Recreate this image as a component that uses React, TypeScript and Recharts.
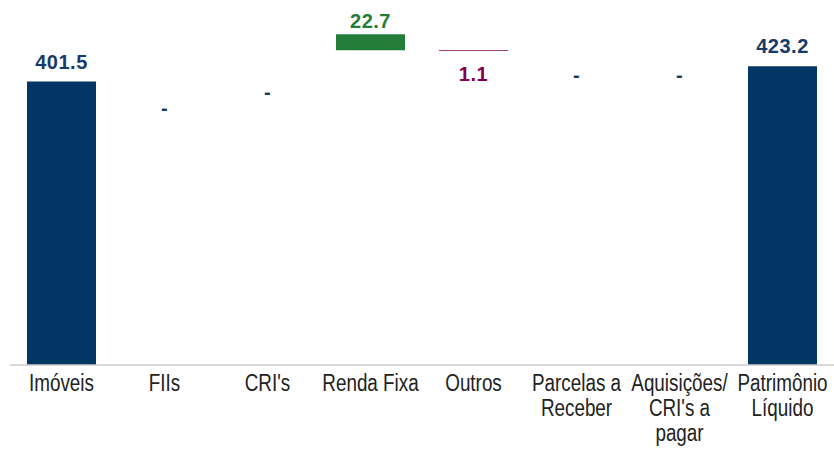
import React from 'react';
import { ComposedChart, Bar, Line, XAxis, YAxis, Cell, LabelList } from 'recharts';

// Waterfall: invisible base + visible delta
const categories = [
  'Imóveis',
  'FIIs',
  "CRI's",
  'Renda Fixa',
  'Outros',
  'Parcelas a\nReceber',
  "Aquisições/\nCRI's a\npagar",
  'Patrimônio\nLíquido',
];
const baseValues = [0, 336, 359, 445.7, 444.6, 382, 382, 0];
const deltaValues = [401.5, 0, 0, 22.7, 1.1, 0, 0, 423.2];
const valueLabels = ['401.5', '-', '-', '22.7', '1.1', '-', '-', '423.2'];
const kinds = ['total', 'zero', 'zero', 'up', 'down', 'zero', 'zero', 'total'];

const NAVY = '#023765';
const GREEN = '#237D38';
const PURPLE = '#80004F';

const barColor = (kind: string) => {
  if (kind === 'up') return GREEN;
  if (kind === 'down') return PURPLE;
  return NAVY;
};

const labelColor = (kind: string) => {
  if (kind === 'up') return GREEN;
  if (kind === 'down') return PURPLE;
  return '#173B69';
};

const data = categories.map((name, i) => ({
  name,
  base: baseValues[i],
  delta: deltaValues[i],
  // where the value label hangs: top of the bar, or bottom for a decrease
  anchor: kinds[i] === 'down' ? baseValues[i] : baseValues[i] + deltaValues[i],
}));

const CategoryTick = (props: any) => {
  const { x, y, payload } = props;
  const lines = String(payload.value).split('\n');
  return (
    <text
      transform={`translate(${x},${y + 26}) scale(0.82,1)`}
      textAnchor="middle"
      fill="#222222"
      fontSize={23}
      fontFamily="'Liberation Sans', Arial, sans-serif"
    >
      {lines.map((line, i) => (
        <tspan key={i} x={0} dy={i === 0 ? 0 : 25}>
          {line}
        </tspan>
      ))}
    </text>
  );
};

const ValueLabel = (props: any) => {
  const { x, y, index } = props;
  const kind = kinds[index];
  const ty = kind === 'down' ? y + 23 : Math.max(y - 20, 21);
  return (
    <text
      x={x}
      y={ty}
      textAnchor="middle"
      dominantBaseline="central"
      fill={labelColor(kind)}
      fontSize={20}
      fontWeight="bold"
      letterSpacing={0.5}
      fontFamily="'Liberation Sans', Arial, sans-serif"
    >
      {valueLabels[index]}
    </text>
  );
};

export default function App() {
  return (
    <div style={{ position: 'absolute', left: 0, top: 0, background: '#fff' }}>
      <ComposedChart
        width={834}
        height={450}
        data={data}
        margin={{ top: 12, right: 0, bottom: 0, left: 10 }}
        barCategoryGap="16.5%"
      >
        <XAxis
          dataKey="name"
          interval={0}
          tickLine={false}
          tickSize={0}
          tickMargin={0}
          axisLine={{ stroke: '#cccccc', strokeWidth: 1.5 }}
          tick={<CategoryTick />}
          height={85}
        />
        <YAxis hide domain={[0, 500]} />
        <Bar dataKey="base" stackId="w" fill="transparent" isAnimationActive={false} />
        <Bar dataKey="delta" stackId="w" isAnimationActive={false}>
          {data.map((d, i) => (
            <Cell key={`cell-${i}`} fill={barColor(kinds[i])} />
          ))}
        </Bar>
        <Line
          dataKey="anchor"
          stroke="none"
          dot={false}
          activeDot={false}
          isAnimationActive={false}
        >
          <LabelList dataKey="anchor" content={<ValueLabel />} />
        </Line>
      </ComposedChart>
    </div>
  );
}
